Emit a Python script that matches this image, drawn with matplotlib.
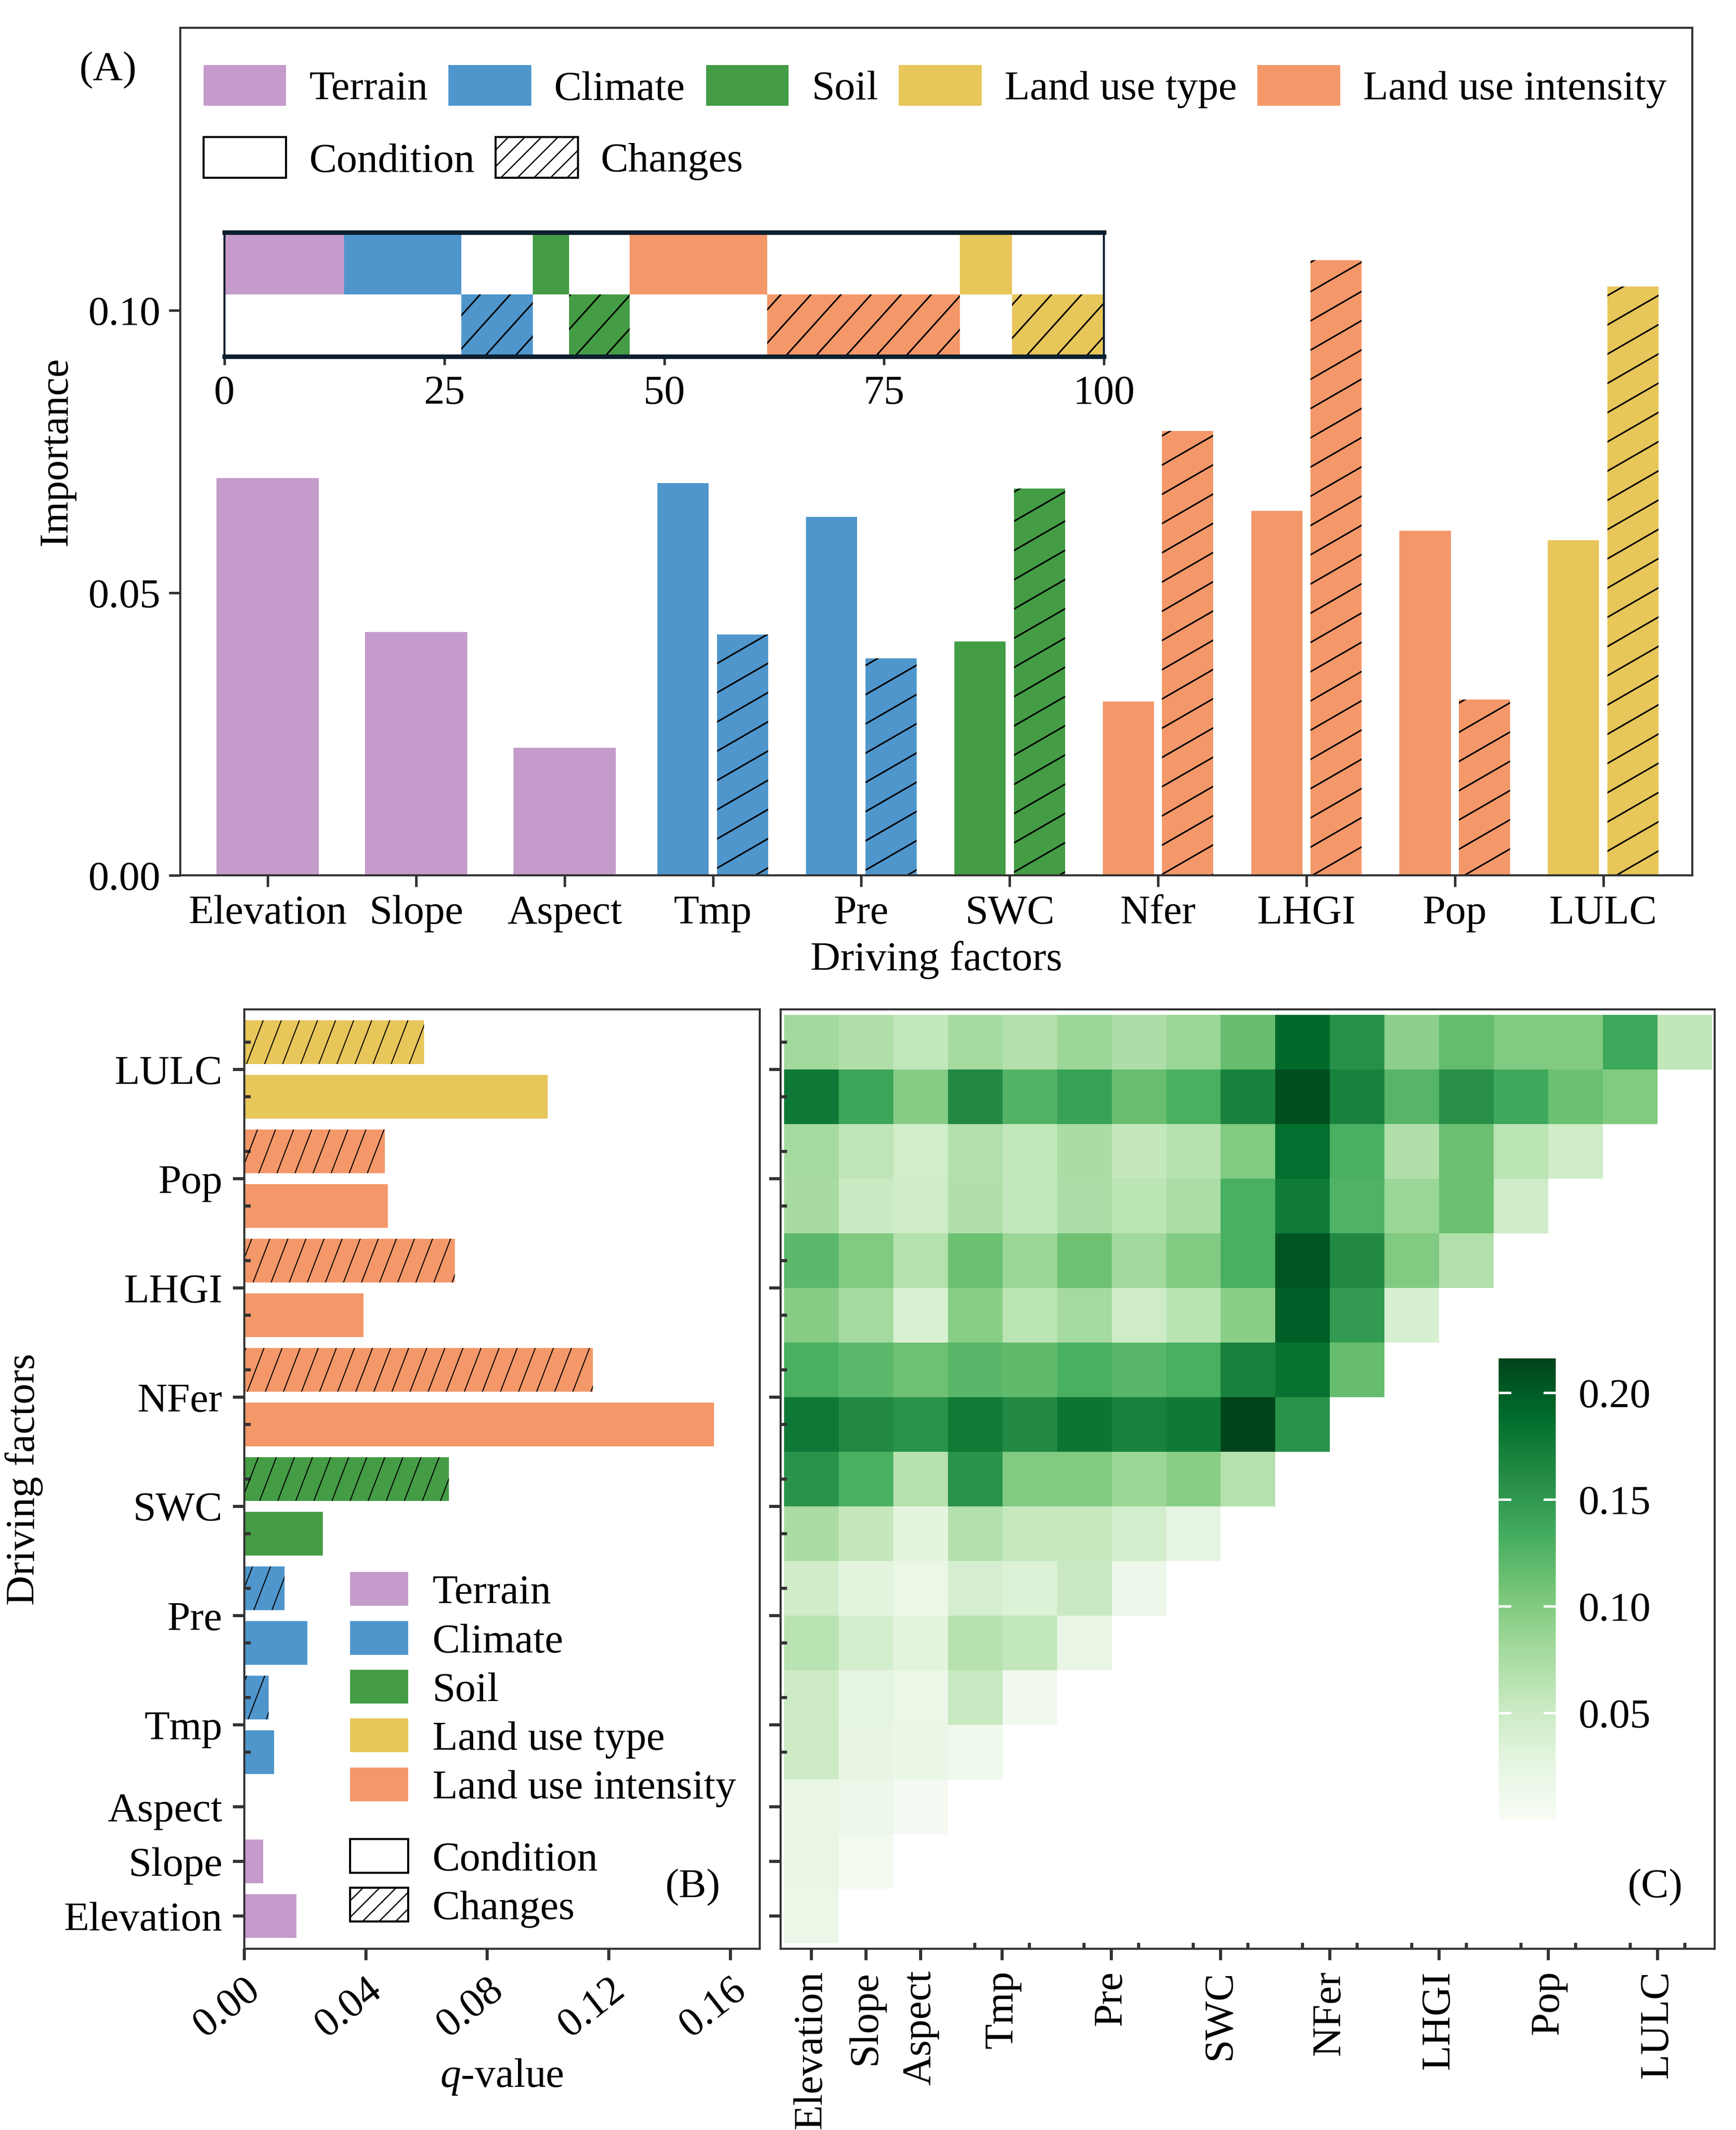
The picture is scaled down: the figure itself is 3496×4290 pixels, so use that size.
import numpy as np
import matplotlib
matplotlib.use("Agg")
import matplotlib.pyplot as plt
from matplotlib.patches import Patch
from matplotlib.collections import LineCollection

plt.rcParams["font.family"] = "serif"
plt.rcParams["font.serif"] = ["Liberation Serif", "DejaVu Serif"]
plt.rcParams["mathtext.fontset"] = "custom"
plt.rcParams["mathtext.rm"] = "Liberation Serif"
plt.rcParams["mathtext.it"] = "Liberation Serif:italic"
plt.rcParams["font.size"] = 20
plt.rcParams["hatch.linewidth"] = 0.6

# ---- data ----------------------------------------------------------------
group_colors = {
    "Terrain": "#C59BCB",
    "Climate": "#4F96CC",
    "Soil": "#449C45",
    "Land use type": "#E7C65A",
    "Land use intensity": "#F4986A",
}
legend_groups = ["Terrain", "Climate", "Soil", "Land use type", "Land use intensity"]

# (A) random-forest importance
factors = ["Elevation", "Slope", "Aspect", "Tmp", "Pre", "SWC", "Nfer", "LHGI", "Pop", "LULC"]
factor_groups = ["Terrain", "Terrain", "Terrain", "Climate", "Climate", "Soil",
                 "Land use intensity", "Land use intensity", "Land use intensity",
                 "Land use type"]
importance_condition = [0.0703, 0.0431, 0.0226, 0.0694, 0.0635, 0.0414, 0.0308, 0.0645, 0.0610, 0.0593]
importance_change = [np.nan, np.nan, np.nan, 0.0426, 0.0384, 0.0685, 0.0787, 0.1089, 0.0311, 0.1042]
inset_order = ["Terrain", "Climate", "Soil", "Land use intensity", "Land use type"]

# (B) geodetector q-values
q_factors = ["Elevation", "Slope", "Aspect", "Tmp", "Pre", "SWC", "NFer", "LHGI", "Pop", "LULC"]
q_condition = [0.0172, 0.0063, 0.0, 0.0098, 0.0207, 0.0259, 0.1546, 0.0392, 0.0472, 0.0998]
q_change = [np.nan, np.nan, np.nan, 0.0081, 0.0133, 0.0673, 0.1148, 0.0693, 0.0463, 0.0592]

# (C) interaction q-values, lower triangle (row i has i+1 values)
interaction_q = [
    [0.017],
    [0.022, 0.007],
    [0.020, 0.016, 0.005],
    [0.049, 0.024, 0.019, 0.011],
    [0.049, 0.025, 0.017, 0.053, 0.009],
    [0.064, 0.043, 0.029, 0.066, 0.057, 0.021],
    [0.046, 0.027, 0.018, 0.041, 0.035, 0.053, 0.014],
    [0.075, 0.056, 0.027, 0.068, 0.054, 0.054, 0.044, 0.026],
    [0.155, 0.130, 0.066, 0.155, 0.100, 0.100, 0.085, 0.095, 0.067],
    [0.178, 0.163, 0.156, 0.176, 0.163, 0.180, 0.170, 0.177, 0.216, 0.155],
    [0.130, 0.120, 0.111, 0.122, 0.118, 0.130, 0.122, 0.130, 0.170, 0.183, 0.115],
    [0.097, 0.078, 0.038, 0.095, 0.062, 0.078, 0.047, 0.064, 0.095, 0.198, 0.148, 0.039],
    [0.120, 0.100, 0.067, 0.112, 0.085, 0.111, 0.080, 0.100, 0.130, 0.205, 0.163, 0.100, 0.069],
    [0.076, 0.052, 0.047, 0.070, 0.057, 0.072, 0.062, 0.074, 0.130, 0.175, 0.127, 0.085, 0.112, 0.047],
    [0.078, 0.060, 0.045, 0.068, 0.057, 0.075, 0.056, 0.066, 0.100, 0.185, 0.130, 0.070, 0.112, 0.062, 0.046],
    [0.178, 0.140, 0.097, 0.163, 0.125, 0.142, 0.114, 0.130, 0.170, 0.210, 0.170, 0.124, 0.158, 0.136, 0.112, 0.100],
    [0.080, 0.070, 0.057, 0.077, 0.068, 0.083, 0.072, 0.085, 0.115, 0.190, 0.157, 0.092, 0.116, 0.100, 0.100, 0.138, 0.059],
]

AX = "#333333"


def add_hatch(ax, patch, angle, spacing, lw):
    """Diagonal hatch lines at a given pixel angle/spacing, clipped to a bar."""
    trans = ax.transData
    x0, y0 = patch.get_x(), patch.get_y()
    x1, y1 = x0 + patch.get_width(), y0 + patch.get_height()
    corners = trans.transform([[x0, y0], [x1, y0], [x1, y1], [x0, y1]])
    a = np.deg2rad(angle)
    d = np.array([np.cos(a), np.sin(a)])
    n = np.array([-np.sin(a), np.cos(a)])
    proj = corners @ n
    ks = np.arange(np.floor(proj.min() / spacing), np.ceil(proj.max() / spacing) + 1)
    L = np.ptp(corners, axis=0).sum() + 20
    c = corners.mean(axis=0)
    segs = []
    for k in ks:
        base = c + (k * spacing - c @ n) * n
        segs.append([base - L * d, base + L * d])
    segs = np.array(segs).reshape(-1, 2)
    segs = trans.inverted().transform(segs).reshape(-1, 2, 2)
    lc = LineCollection(segs, colors="black", linewidths=lw)
    ax.add_collection(lc, autolim=False)
    lc.set_clip_path(patch)


def style_spines(ax, lw=1.0):
    for s in ax.spines.values():
        s.set_color(AX)
        s.set_linewidth(lw)


fig = plt.figure(figsize=(3496 / 300, 4290 / 300), dpi=300)

# ---- (A) importance bars --------------------------------------------------
axA = fig.add_axes([0.1038, 0.5890, 0.8710, 0.3979])
xpos = np.arange(1, len(factors) + 1)
hatchedA = []
for i in range(len(factors)):
    col = group_colors[factor_groups[i]]
    if np.isnan(importance_change[i]):
        axA.bar(xpos[i], importance_condition[i], width=0.69, color=col, linewidth=0)
    else:
        axA.bar(xpos[i] - 0.2, importance_condition[i], width=0.345, color=col, linewidth=0)
        b = axA.bar(xpos[i] + 0.2, importance_change[i], width=0.345, color=col, linewidth=0)
        hatchedA.append(b[0])
axA.set_xlim(0.41, 10.6)
axA.set_ylim(0, 0.15)
axA.set_xticks(xpos)
axA.set_xticklabels(factors)
axA.set_yticks([0.0, 0.05, 0.10])
axA.set_yticklabels(["0.00", "0.05", "0.10"])
axA.tick_params(direction="out", length=5.5, width=1.2, color=AX, pad=4)
axA.set_xlabel("Driving factors", labelpad=4)
axA.set_ylabel("Importance", labelpad=6)
style_spines(axA)
for p in hatchedA:
    add_hatch(axA, p, 30, 51, 0.75)

leg1 = axA.legend(
    handles=[Patch(facecolor=group_colors[g], edgecolor="none", label=g) for g in legend_groups],
    ncol=5, loc="upper left", bbox_to_anchor=(0.0154, 0.956), frameon=False,
    handlelength=2.0, handleheight=1.13, handletextpad=0.55, columnspacing=0.5,
    borderpad=0, borderaxespad=0)
axA.add_artist(leg1)
axA.legend(
    handles=[Patch(facecolor="white", edgecolor="black", linewidth=1.0, label="Condition"),
             Patch(facecolor="white", edgecolor="black", linewidth=1.0, hatch="///", label="Changes")],
    ncol=2, loc="upper left", bbox_to_anchor=(0.0154, 0.871), frameon=False,
    handlelength=2.0, handleheight=1.13, handletextpad=0.55, columnspacing=0.5,
    borderpad=0, borderaxespad=0)

fig.text(0.062, 0.967, "(A)", ha="center", va="center", fontsize=20)

# inset: share (%) of importance per group, condition row on top, change row below
total = np.nansum(importance_condition) + np.nansum(importance_change)
axI = fig.add_axes([0.1293, 0.8326, 0.5066, 0.0583])
left = 0.0
hatchedI = []
for g in inset_order:
    idx = [i for i in range(len(factors)) if factor_groups[i] == g]
    cond = 100 * sum(importance_condition[i] for i in idx) / total
    axI.barh(1, cond, left=left, height=1.0, color=group_colors[g], linewidth=0)
    left += cond
    chg = np.nansum([importance_change[i] for i in idx])
    if chg > 0:
        chg = 100 * chg / total
        b = axI.barh(0, chg, left=left, height=1.0, color=group_colors[g], linewidth=0)
        hatchedI.append(b[0])
        left += chg
axI.set_xlim(0, 100)
axI.set_ylim(-0.5, 1.5)
axI.set_yticks([])
axI.set_xticks([0, 25, 50, 75, 100])
axI.tick_params(axis="x", direction="out", length=4, width=1.2, color=AX, pad=5)
for s in ["left", "right"]:
    axI.spines[s].set_linewidth(1.0)
    axI.spines[s].set_color("#0b1f2e")
for s in ["top", "bottom"]:
    axI.spines[s].set_linewidth(2.2)
    axI.spines[s].set_color("#0b1f2e")
for p in hatchedI:
    add_hatch(axI, p, 48, 45, 0.75)

# ---- (B) q-values --------------------------------------------------------
axB = fig.add_axes([0.1407, 0.0851, 0.2969, 0.4410])
slot = 0
major_pos = []
hatchedB = []
for i in range(len(q_factors)):
    col = group_colors[factor_groups[i]]
    if np.isnan(q_change[i]):
        axB.barh(slot, q_condition[i], height=0.8, color=col, linewidth=0)
        major_pos.append(slot)
        slot += 1
    else:
        axB.barh(slot, q_condition[i], height=0.8, color=col, linewidth=0)
        b = axB.barh(slot + 1, q_change[i], height=0.8, color=col, linewidth=0)
        hatchedB.append(b[0])
        major_pos.append(slot + 0.5)
        slot += 2
n_slots = slot
axB.set_xlim(0, 0.1696)
axB.set_ylim(-0.6, n_slots - 0.4)
axB.set_yticks(major_pos)
axB.set_yticklabels(q_factors)
axB.set_yticks(np.arange(n_slots), minor=True)
axB.set_xticks([0, 0.04, 0.08, 0.12, 0.16])
axB.set_xticklabels(["0.00", "0.04", "0.08", "0.12", "0.16"], rotation=38,
                    ha="right", va="top", rotation_mode="anchor")
axB.tick_params(which="major", direction="out", length=5.5, width=1.5, color=AX, pad=5)
axB.tick_params(axis="y", which="minor", direction="in", length=3, width=1.5, color=AX)
axB.set_xlabel(r"$\it{q}$-value", labelpad=6)
axB.set_ylabel("Driving factors", labelpad=10)
style_spines(axB)
for p in hatchedB:
    add_hatch(axB, p, 69, 34, 0.5)

legB1 = axB.legend(
    handles=[Patch(facecolor=group_colors[g], edgecolor="none", label=g) for g in legend_groups],
    loc="upper left", bbox_to_anchor=(0.205, 0.401), frameon=False,
    handlelength=1.41, handleheight=0.88, handletextpad=0.58, labelspacing=0.21,
    borderpad=0, borderaxespad=0)
axB.add_artist(legB1)
axB.legend(
    handles=[Patch(facecolor="white", edgecolor="black", linewidth=1.0, label="Condition"),
             Patch(facecolor="white", edgecolor="black", linewidth=1.0, hatch="///", label="Changes")],
    loc="upper left", bbox_to_anchor=(0.205, 0.117), frameon=False,
    handlelength=1.41, handleheight=0.88, handletextpad=0.58, labelspacing=0.21,
    borderpad=0, borderaxespad=0)
axB.text(0.87, 0.065, "(B)", transform=axB.transAxes, ha="center", va="center", fontsize=20)

# ---- (C) interaction heatmap ---------------------------------------------
M = np.full((n_slots, n_slots), np.nan)
for i, row in enumerate(interaction_q):
    M[i, :len(row)] = row
axC = fig.add_axes([0.4497, 0.0851, 0.5380, 0.4410])
im = axC.imshow(M, cmap="Greens", vmin=0, vmax=np.nanmax(M), origin="lower",
                aspect="auto", interpolation="nearest",
                extent=(-0.5, n_slots - 0.5, -0.5, n_slots - 0.5))
axC.set_xlim(-0.56, n_slots - 0.45)
axC.set_ylim(-0.6, n_slots - 0.4)
axC.set_xticks(major_pos)
axC.set_xticklabels(q_factors, rotation=90)
axC.set_xticks(np.arange(n_slots), minor=True)
axC.set_yticks(major_pos)
axC.set_yticklabels([])
axC.set_yticks(np.arange(n_slots), minor=True)
axC.tick_params(which="major", direction="out", length=5.5, width=1.5, color=AX, pad=5)
axC.tick_params(which="minor", direction="in", length=3, width=1.5, color=AX)
style_spines(axC)
axC.text(0.936, 0.065, "(C)", transform=axC.transAxes, ha="center", va="center", fontsize=20)

cax = fig.add_axes([0.8633, 0.1457, 0.0329, 0.2166])
cb = fig.colorbar(im, cax=cax)
cb.outline.set_visible(False)
cb.set_ticks([0.05, 0.10, 0.15, 0.20])
cb.set_ticklabels(["0.05", "0.10", "0.15", "0.20"])
cax.tick_params(direction="in", length=6, width=1.2, color="white",
                left=True, right=True, labelleft=False, labelright=True, pad=11)

fig.savefig("out.png", dpi=300, facecolor="white")
